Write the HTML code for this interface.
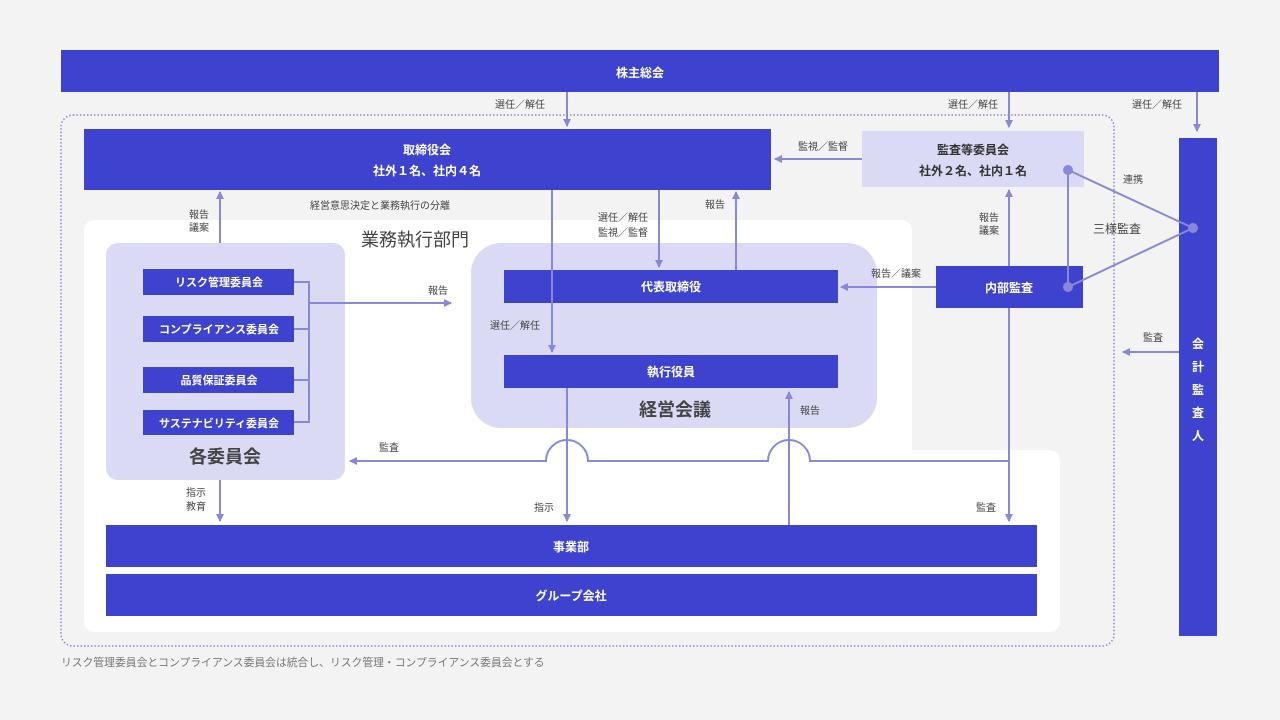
<!DOCTYPE html>
<html><head><meta charset="utf-8"><style>
html,body{margin:0;padding:0;background:#f3f3f4;}
svg{display:block;font-family:"Liberation Sans","Noto Sans CJK JP",sans-serif;}
</style></head><body>
<svg width="1280" height="720" viewBox="0 0 1280 720" xmlns="http://www.w3.org/2000/svg">
<defs>
<marker id="a" markerWidth="8" markerHeight="8" refX="7" refY="4" orient="auto" markerUnits="userSpaceOnUse">
<path d="M0,0 L8,4 L0,8 z" fill="#8888d8"/></marker>
</defs>
<rect width="1280" height="720" fill="#f3f3f4"/>
<path d="M96,220 H900 Q912,220 912,232 V450 H1048 Q1060,450 1060,462 V620 Q1060,632 1048,632 H96 Q84,632 84,620 V232 Q84,220 96,220 Z" fill="#ffffff"/>
<rect x="61" y="115" width="1053" height="531" rx="12" fill="none" stroke="#8888d8" stroke-width="1.5" stroke-dasharray="1.5 2"/>
<rect x="61" y="50" width="1158" height="42" fill="#3e43cf"/>
<text x="640" y="77" font-size="12" fill="#fff" text-anchor="middle" font-weight="bold">株主総会</text>
<rect x="84" y="129" width="687" height="61" fill="#3e43cf"/>
<text x="427" y="154" font-size="12" fill="#fff" text-anchor="middle" font-weight="bold">取締役会</text>
<text x="427" y="175" font-size="12" fill="#fff" text-anchor="middle" font-weight="bold">社外１名、社内４名</text>
<rect x="862" y="131" width="222" height="56" fill="#dadaf5"/>
<text x="973" y="154" font-size="12" fill="#333" text-anchor="middle" font-weight="bold">監査等委員会</text>
<text x="973" y="175" font-size="12" fill="#333" text-anchor="middle" font-weight="bold">社外２名、社内１名</text>
<rect x="1179" y="138" width="38" height="498" fill="#3e43cf"/>
<g font-size="12" fill="#fff" text-anchor="middle" font-weight="bold">
<text x="1198" y="348">会</text><text x="1198" y="371">計</text><text x="1198" y="394">監</text><text x="1198" y="417">査</text><text x="1198" y="440">人</text></g>
<text x="415" y="246" font-size="18" fill="#444" text-anchor="middle">業務執行部門</text>
<rect x="106" y="243" width="239" height="237" rx="12" fill="#dadaf5"/>
<text x="225" y="463" font-size="18" fill="#444" text-anchor="middle" font-weight="bold">各委員会</text>
<g fill="#3e43cf"><rect x="143" y="269" width="151" height="26"/><rect x="143" y="316" width="151" height="26"/><rect x="143" y="367" width="151" height="26"/><rect x="143" y="410" width="151" height="25"/></g>
<g font-size="11" fill="#fff" text-anchor="middle" font-weight="bold">
<text x="219" y="286">リスク管理委員会</text><text x="219" y="333">コンプライアンス委員会</text><text x="219" y="384">品質保証委員会</text><text x="219" y="427">サステナビリティ委員会</text></g>
<rect x="471" y="243" width="406" height="185" rx="30" fill="#dadaf5"/>
<text x="675" y="416" font-size="18" fill="#444" text-anchor="middle" font-weight="bold">経営会議</text>
<rect x="504" y="270" width="334" height="33" fill="#3e43cf"/>
<text x="671" y="291" font-size="12" fill="#fff" text-anchor="middle" font-weight="bold">代表取締役</text>
<rect x="504" y="355" width="334" height="33" fill="#3e43cf"/>
<text x="671" y="376" font-size="12" fill="#fff" text-anchor="middle" font-weight="bold">執行役員</text>
<rect x="936" y="266" width="147" height="42" fill="#3e43cf"/>
<text x="1009" y="292" font-size="12" fill="#fff" text-anchor="middle" font-weight="bold">内部監査</text>
<rect x="106" y="525" width="931" height="42" fill="#3e43cf"/>
<text x="571" y="551" font-size="12" fill="#fff" text-anchor="middle" font-weight="bold">事業部</text>
<rect x="106" y="574" width="931" height="42" fill="#3e43cf"/>
<text x="571" y="600" font-size="12" fill="#fff" text-anchor="middle" font-weight="bold">グループ会社</text>
<g stroke="#8888d8" stroke-width="2" fill="none">
<line x1="567" y1="92" x2="567" y2="126" marker-end="url(#a)"/>
<line x1="1009" y1="92" x2="1009" y2="127" marker-end="url(#a)"/>
<line x1="1197" y1="92" x2="1197" y2="131" marker-end="url(#a)"/>
<line x1="862" y1="159" x2="775" y2="159" marker-end="url(#a)"/>
<line x1="552" y1="190" x2="552" y2="352" marker-end="url(#a)"/>
<line x1="659" y1="190" x2="659" y2="267" marker-end="url(#a)"/>
<line x1="736" y1="270" x2="736" y2="192" marker-end="url(#a)"/>
<line x1="220" y1="243" x2="220" y2="192" marker-end="url(#a)"/>
<line x1="1009" y1="266" x2="1009" y2="190" marker-end="url(#a)"/>
<line x1="936" y1="287" x2="841" y2="287" marker-end="url(#a)"/>
<line x1="1009" y1="308" x2="1009" y2="521" marker-end="url(#a)"/>
<path d="M1009,461 H810 A21,21 0 0 0 768,461 H588 A21,21 0 0 0 546,461 H350" marker-end="url(#a)"/>
<line x1="567" y1="388" x2="567" y2="521" marker-end="url(#a)"/>
<line x1="789" y1="525" x2="789" y2="392" marker-end="url(#a)"/>
<line x1="220" y1="480" x2="220" y2="521" marker-end="url(#a)"/>
<line x1="1179" y1="352" x2="1123" y2="352" marker-end="url(#a)"/>
<path d="M294,282 H309 V422 H294 M294,329 H309 M294,380 H309"/>
<line x1="309" y1="303" x2="451" y2="303" marker-end="url(#a)"/>
<polygon points="1068,170 1068,287 1193,228"/>
</g>
<g fill="#8888d8"><circle cx="1068" cy="170" r="5"/><circle cx="1068" cy="287" r="5"/><circle cx="1193" cy="228" r="5"/></g>
<g font-size="10" fill="#444" text-anchor="middle">
<text x="520" y="108">選任／解任</text>
<text x="973" y="108">選任／解任</text>
<text x="1157" y="108">選任／解任</text>
<text x="823" y="150">監視／監督</text>
<text x="380" y="209">経営意思決定と業務執行の分離</text>
<text x="199" y="218">報告</text><text x="199" y="231">議案</text>
<text x="623" y="221">選任／解任</text><text x="623" y="236">監視／監督</text>
<text x="715" y="208">報告</text>
<text x="989" y="221">報告</text><text x="989" y="234">議案</text>
<text x="896" y="277">報告／議案</text>
<text x="438" y="294">報告</text>
<text x="515" y="329">選任／解任</text>
<text x="810" y="414">報告</text>
<text x="389" y="451">監査</text>
<text x="196" y="496">指示</text><text x="196" y="510">教育</text>
<text x="544" y="511">指示</text>
<text x="986" y="511">監査</text>
<text x="1153" y="341">監査</text>
<text x="1133" y="183">連携</text>
</g>
<text x="1117" y="233" font-size="12" fill="#444" text-anchor="middle">三様監査</text>
<text x="61" y="666" font-size="10.8" fill="#777">リスク管理委員会とコンプライアンス委員会は統合し、リスク管理・コンプライアンス委員会とする</text>
</svg>
</body></html>
